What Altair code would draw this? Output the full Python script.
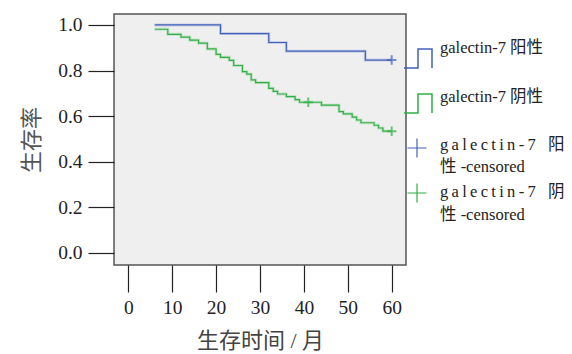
import altair as alt
import pandas as pd

# --- data ---
pos_time = [6, 21, 32, 36, 54, 60]
pos_surv = [1.0, 0.962, 0.923, 0.885, 0.846, 0.846]
pos_cens_time = [60]
pos_cens_surv = [0.846]

neg_time = [6, 9, 12, 14, 16, 18, 20, 21, 23, 24, 26, 27, 28, 29, 32, 33, 34, 36,
            38, 39, 44, 48, 49, 51, 52, 53, 56, 57, 58, 60]
neg_surv = [0.981, 0.959, 0.947, 0.933, 0.920, 0.895, 0.871, 0.858, 0.845, 0.822,
            0.795, 0.784, 0.759, 0.747, 0.722, 0.709, 0.697, 0.686, 0.672, 0.661,
            0.648, 0.620, 0.610, 0.596, 0.583, 0.571, 0.560, 0.548, 0.534, 0.534]
neg_cens_time = [41, 60]
neg_cens_surv = [0.661, 0.534]

groups = ["galectin-7 阳性", "galectin-7 阴性"]
colors = ["#4260bb", "#2fb044"]
x_ticks = [0, 10, 20, 30, 40, 50, 60]
y_ticks = [0.0, 0.2, 0.4, 0.6, 0.8, 1.0]

lines = pd.DataFrame({
    "time": pos_time + neg_time,
    "surv": pos_surv + neg_surv,
    "group": [groups[0]] * len(pos_time) + [groups[1]] * len(neg_time),
})
cens = pd.DataFrame({
    "time": pos_cens_time + neg_cens_time,
    "surv": pos_cens_surv + neg_cens_surv,
    "group": [groups[0]] * len(pos_cens_time) + [groups[1]] * len(neg_cens_time),
})

FONT = "Liberation Serif, Noto Sans CJK SC"
PLUS = "M-1,0L1,0M0,-1L0,1"
STEP = "M-1,0.68L0,0.68L0,-0.68L1,-0.68L1,0.68"

xs = alt.Scale(domain=[-3.26, 63.26], nice=False, zero=False)
ys = alt.Scale(domain=[-0.053, 1.048], nice=False, zero=False)
cs = alt.Scale(domain=groups, range=colors)

xenc = alt.X("time:Q", scale=xs, axis=alt.Axis(
    values=x_ticks, title="生存时间 / 月", grid=False, domain=False,
    tickSize=27, tickColor="#222", tickWidth=1.2, labelPadding=6,
    labelFontSize=19.5, labelFont=FONT, labelColor="#222",
    titleFontSize=22, titleFont=FONT, titleFontWeight="normal", titleColor="#444",
    titlePadding=14))
yenc = alt.Y("surv:Q", scale=ys, axis=alt.Axis(
    values=y_ticks, format=".1f", title="生存率", grid=False, domain=False,
    tickSize=26, tickColor="#222", tickWidth=1.2, labelPadding=6,
    labelFontSize=19.5, labelFont=FONT, labelColor="#222",
    titleFontSize=22, titleFont=FONT, titleFontWeight="normal", titleColor="#555",
    titlePadding=14))

halo = alt.Chart(lines).mark_line(interpolate="step-after", strokeWidth=3, opacity=0.22).encode(
    x=xenc, y=yenc, color=alt.Color("group:N", scale=cs, legend=None), detail="group:N")
line = alt.Chart(lines).mark_line(interpolate="step-after", strokeWidth=1.2).encode(
    x=xenc, y=yenc, color=alt.Color("group:N", scale=cs, legend=None), detail="group:N")
plus = alt.Chart(cens).mark_point(shape=PLUS, size=90, filled=False, strokeWidth=2).encode(
    x=xenc, y=yenc, color=alt.Color("group:N", scale=cs, legend=None))

# --- hand-drawn legend to the right of the plot ---
def sym(shape, size, color, x, y, sw):
    return alt.Chart(pd.DataFrame({"a": [0]})).mark_point(
        shape=shape, size=size, filled=False, color=color, strokeWidth=sw, clip=False, opacity=1
    ).encode(x=alt.value(x), y=alt.value(y))

def txt(text, x, y):
    return alt.Chart(pd.DataFrame({"a": [0]})).mark_text(
        text=text, align="left", baseline="middle", font=FONT, fontSize=16.5,
        color="#222", clip=False
    ).encode(x=alt.value(x), y=alt.value(y))

t = "\u2009"
spaced = t.join("galectin-7")
leg = [
    sym(STEP, 784, colors[0], 304, 44.5, 1.5),
    sym(STEP, 784, colors[1], 304, 89.5, 1.5),
    sym(PLUS, 361, colors[0], 303, 134, 1.2),
    sym(PLUS, 361, colors[1], 303, 179, 1.2),
    txt(groups[0], 326, 34),
    txt(groups[1], 326, 82.5),
    txt(spaced + "\u2002 阳", 326, 131),
    txt("性 -censored", 326, 153),
    txt(spaced + "\u2002 阴", 326, 178),
    txt("性 -censored", 326, 201),
]

chart = alt.layer(halo, line, plus, *leg).properties(
    width=292, height=251,
    autosize=alt.AutoSizeParams(type="none"),
    padding={"left": 114, "top": 14, "right": 166, "bottom": 89},
    background="white",
).configure_view(
    fill="#efefef", stroke="#555", strokeWidth=1.5
)

chart.save("out.html", embed_options={"renderer": "svg", "actions": False})
